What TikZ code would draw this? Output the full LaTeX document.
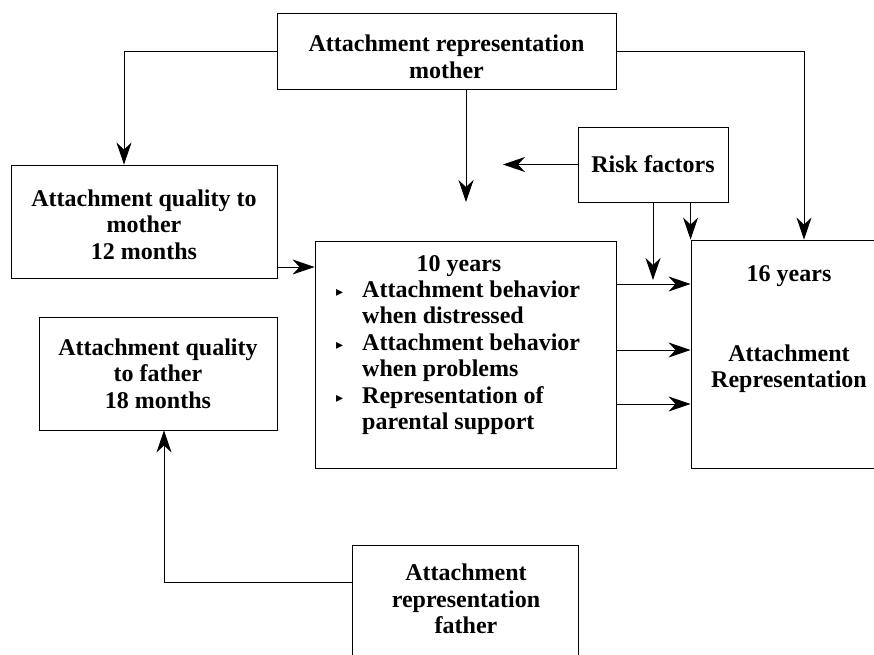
\documentclass[tikz,border=0pt]{standalone}
\usepackage{fontspec}
\setmainfont{Liberation Serif}
\newfontfamily\symfont{DejaVu Sans}
\usetikzlibrary{arrows.meta}
\newcommand{\bul}{\makebox[26pt][l]{\symfont\fontsize{14}{14}\selectfont\raisebox{1pt}{▸}}}
\begin{document}
\begin{tikzpicture}[x=1pt,y=-1pt,
  lbl/.style={inner sep=0pt, align=center, font=\bfseries\fontsize{24}{26.5}\selectfont},
  box/.style={draw, line width=0.9pt, inner sep=0pt, align=center, font=\bfseries\fontsize{24}{26.5}\selectfont},
  conn/.style={line width=0.9pt, -{Stealth[length=22pt,width=15pt,inset=7pt]}}]
\useasboundingbox (0,0) rectangle (874,654);
\fill[white] (0,0) rectangle (874,654);
\clip (0,0) rectangle (874,654);

% boxes
\node[box, minimum width=339pt, minimum height=76pt] (repm) at (446.5,51) {};
\node[lbl] (repmt) at (446.5,57) {Attachment representation\\mother};
\node[box, minimum width=266pt, minimum height=113pt] (qm) at (144,221.5) {};
\node[lbl] (qmt) at (144,224.5) {Attachment quality to\\mother\\12 months};
\node[box, minimum width=150pt, minimum height=75pt] (risk) at (653,164.5) {Risk factors};
\node[box, minimum width=301pt, minimum height=227pt] (ten) at (465.5,354.5) {};
\node[lbl] (tent) at (459,266) {10 years};
\node[lbl, anchor=west, align=left] (tenl) at (336,357.5) {\bul Attachment behavior\\\hspace*{26pt}when distressed\\\bul Attachment behavior\\\hspace*{26pt}when problems\\\bul Representation of\\\hspace*{26pt}parental support};
\node[box, minimum width=196pt, minimum height=228pt] (six) at (789,354) {};
\node[lbl] (sixa) at (789,276) {16 years};
\node[lbl] (sixb) at (789,368.5) {Attachment\\Representation};
\node[box, minimum width=238pt, minimum height=113pt] (qf) at (158,373.5) {Attachment quality\\to father\\18 months};
\node[box, minimum width=226pt, minimum height=135pt] (repf) at (465,612.5) {};
\node[lbl] (repft) at (466,599) {Attachment\\representation\\father};

% free ends
\coordinate (c1) at (466,202);
\coordinate (c2) at (503,164.5);
\coordinate (c3) at (653,280);

% connectors
\draw[conn] (repm.west) -| ([xshift=-20pt]qm.north);
\draw[conn] (repm.east) -| ([xshift=15pt]six.north);
\draw[conn] ([xshift=19.5pt]repm.south) -- (c1);
\draw[conn] (risk.west) -- (c2);
\draw[conn] (risk.south) -- (c3);
\draw[conn] (risk.south -| six.north west) -- (six.north west);
\draw[conn] ([yshift=-45.5pt]qm.east) -- ([yshift=-45.5pt]qm.east -| ten.west);
\draw[conn] ([yshift=70.5pt]ten.east) -- ([yshift=70.5pt]ten.east -| six.west);
\draw[conn] ([yshift=4.5pt]ten.east) -- ([yshift=4.5pt]ten.east -| six.west);
\draw[conn] ([yshift=-49.5pt]ten.east) -- ([yshift=-49.5pt]ten.east -| six.west);
\draw[conn] ([yshift=30.5pt]repf.west) -| ([xshift=6pt]qf.south);
\end{tikzpicture}
\end{document}
